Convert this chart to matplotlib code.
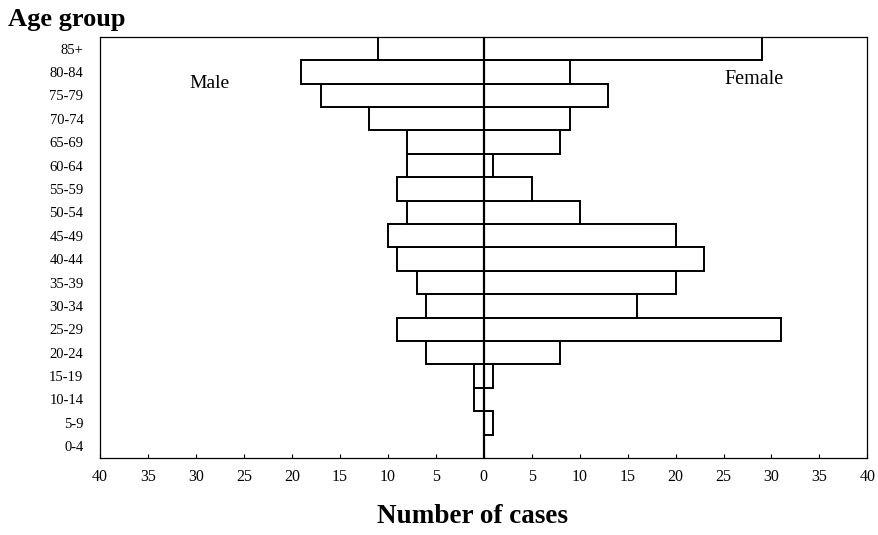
import numpy as np
import matplotlib.pyplot as plt

# age groups from youngest (bottom) to oldest (top)
age_groups = ["0-4", "5-9", "10-14", "15-19", "20-24", "25-29", "30-34", "35-39",
              "40-44", "45-49", "50-54", "55-59", "60-64", "65-69", "70-74",
              "75-79", "80-84", "85+"]
male = [0, 0, 1, 1, 6, 9, 6, 7, 9, 10, 8, 9, 8, 8, 12, 17, 19, 11]
female = [0, 1, 0, 1, 8, 31, 16, 20, 23, 20, 10, 5, 1, 8, 9, 13, 9, 29]
xticks = np.arange(-40, 45, 5)

serif = "Liberation Serif"

fig = plt.figure(figsize=(8.79, 5.35), dpi=100)
ax = fig.add_axes([0.1138, 0.144, 0.873, 0.787])

y = np.arange(len(age_groups))
ax.barh(y, -np.array(male), height=1.0, color="white", edgecolor="black", linewidth=1.4)
ax.barh(y, female, height=1.0, color="white", edgecolor="black", linewidth=1.4)
ax.axvline(0, color="black", linewidth=1.6)

ax.set_xlim(-40, 40)
ax.set_ylim(-0.5, len(age_groups) - 0.5)

ax.set_yticks(y)
ax.set_yticklabels(age_groups, fontfamily=serif, fontsize=10.5)
ax.tick_params(axis="y", length=0, pad=12)

ax.set_xticks(xticks)
ax.set_xticklabels([str(abs(v)) for v in xticks], fontfamily=serif, fontsize=11.5)
ax.tick_params(axis="x", direction="in", length=3, pad=8, width=0.8)

for s in ax.spines.values():
    s.set_linewidth(0.9)

ax.text(-28.6, 15.5, "Male", fontfamily=serif, fontsize=14, ha="center", va="center")
ax.text(28.2, 15.7, "Female", fontfamily=serif, fontsize=14.5, ha="center", va="center")

fig.text(0.009, 0.964, "Age group", fontfamily=serif, fontweight="bold", fontsize=19,
         ha="left", va="center")
fig.text(0.537, 0.034, "Number of cases", fontfamily=serif, fontweight="bold", fontsize=19.5,
         ha="center", va="center")

fig.savefig("out.png", dpi=100)
